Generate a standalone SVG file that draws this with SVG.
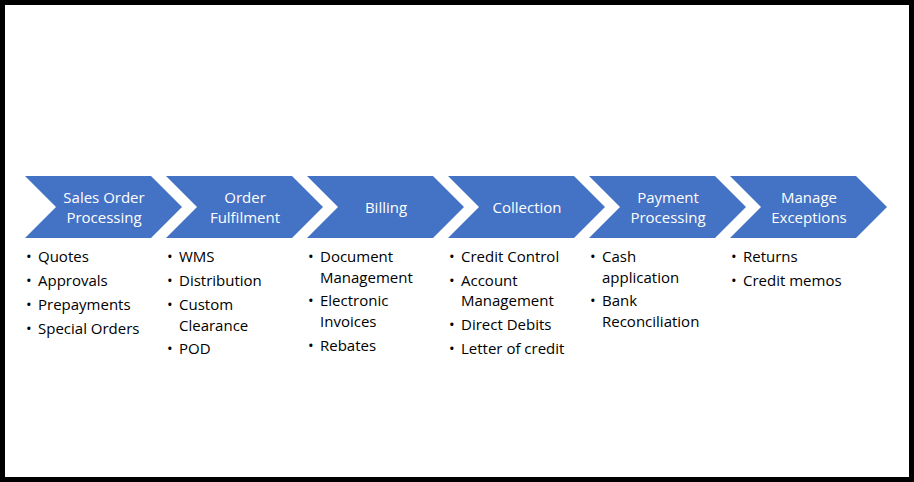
<svg xmlns="http://www.w3.org/2000/svg" width="914" height="482" viewBox="0 0 914 482">
<style>
.ch{fill:#4472C4}
.t{font-family:"Open Sans","Liberation Sans",sans-serif;font-size:15px;fill:#fff;text-anchor:middle}
.b{font-family:"Open Sans","Liberation Sans",sans-serif;font-size:15px;fill:#000}
</style>
<defs><path id="chev" d="M0 0H126L157 31L126 62H0L31 31Z"/></defs>
<rect x="0" y="0" width="914" height="482" fill="#000"/>
<rect x="5" y="5" width="904" height="472" fill="#fff"/>
<g id="n1"><use href="#chev" x="25" y="176" class="ch"/><text class="t" x="104" y="203">Sales Order</text><text class="t" x="104" y="223">Processing</text>
<text class="b" y="262"><tspan x="26">•</tspan><tspan x="38">Quotes</tspan></text>
<text class="b" y="286"><tspan x="26">•</tspan><tspan x="38">Approvals</tspan></text>
<text class="b" y="310"><tspan x="26">•</tspan><tspan x="38">Prepayments</tspan></text>
<text class="b" y="334"><tspan x="26">•</tspan><tspan x="38">Special Orders</tspan></text></g>
<g id="n2"><use href="#chev" x="166" y="176" class="ch"/><text class="t" x="245" y="203">Order</text><text class="t" x="245" y="223">Fulfilment</text>
<text class="b" y="262"><tspan x="167">•</tspan><tspan x="179">WMS</tspan></text>
<text class="b" y="286"><tspan x="167">•</tspan><tspan x="179">Distribution</tspan></text>
<text class="b" y="310"><tspan x="167">•</tspan><tspan x="179">Custom</tspan></text>
<text class="b" x="179" y="331">Clearance</text>
<text class="b" y="354"><tspan x="167">•</tspan><tspan x="179">POD</tspan></text></g>
<g id="n3"><use href="#chev" x="307" y="176" class="ch"/><text class="t" x="386" y="213">Billing</text>
<text class="b" y="262"><tspan x="308">•</tspan><tspan x="320">Document</tspan></text>
<text class="b" x="320" y="283">Management</text>
<text class="b" y="306"><tspan x="308">•</tspan><tspan x="320">Electronic</tspan></text>
<text class="b" x="320" y="327">Invoices</text>
<text class="b" y="351"><tspan x="308">•</tspan><tspan x="320">Rebates</tspan></text></g>
<g id="n4"><use href="#chev" x="448" y="176" class="ch"/><text class="t" x="527" y="213">Collection</text>
<text class="b" y="262"><tspan x="449">•</tspan><tspan x="461">Credit Control</tspan></text>
<text class="b" y="286"><tspan x="449">•</tspan><tspan x="461">Account</tspan></text>
<text class="b" x="461" y="306">Management</text>
<text class="b" y="330"><tspan x="449">•</tspan><tspan x="461">Direct Debits</tspan></text>
<text class="b" y="354"><tspan x="449">•</tspan><tspan x="461">Letter of credit</tspan></text></g>
<g id="n5"><use href="#chev" x="589" y="176" class="ch"/><text class="t" x="668" y="203">Payment</text><text class="t" x="668" y="223">Processing</text>
<text class="b" y="262"><tspan x="590">•</tspan><tspan x="602">Cash</tspan></text>
<text class="b" x="602" y="283">application</text>
<text class="b" y="306"><tspan x="590">•</tspan><tspan x="602">Bank</tspan></text>
<text class="b" x="602" y="327">Reconciliation</text></g>
<g id="n6"><use href="#chev" x="730" y="176" class="ch"/><text class="t" x="809" y="203">Manage</text><text class="t" x="809" y="223">Exceptions</text>
<text class="b" y="262"><tspan x="731">•</tspan><tspan x="743">Returns</tspan></text>
<text class="b" y="286"><tspan x="731">•</tspan><tspan x="743">Credit memos</tspan></text></g>
<g id="connectors"/>
</svg>
